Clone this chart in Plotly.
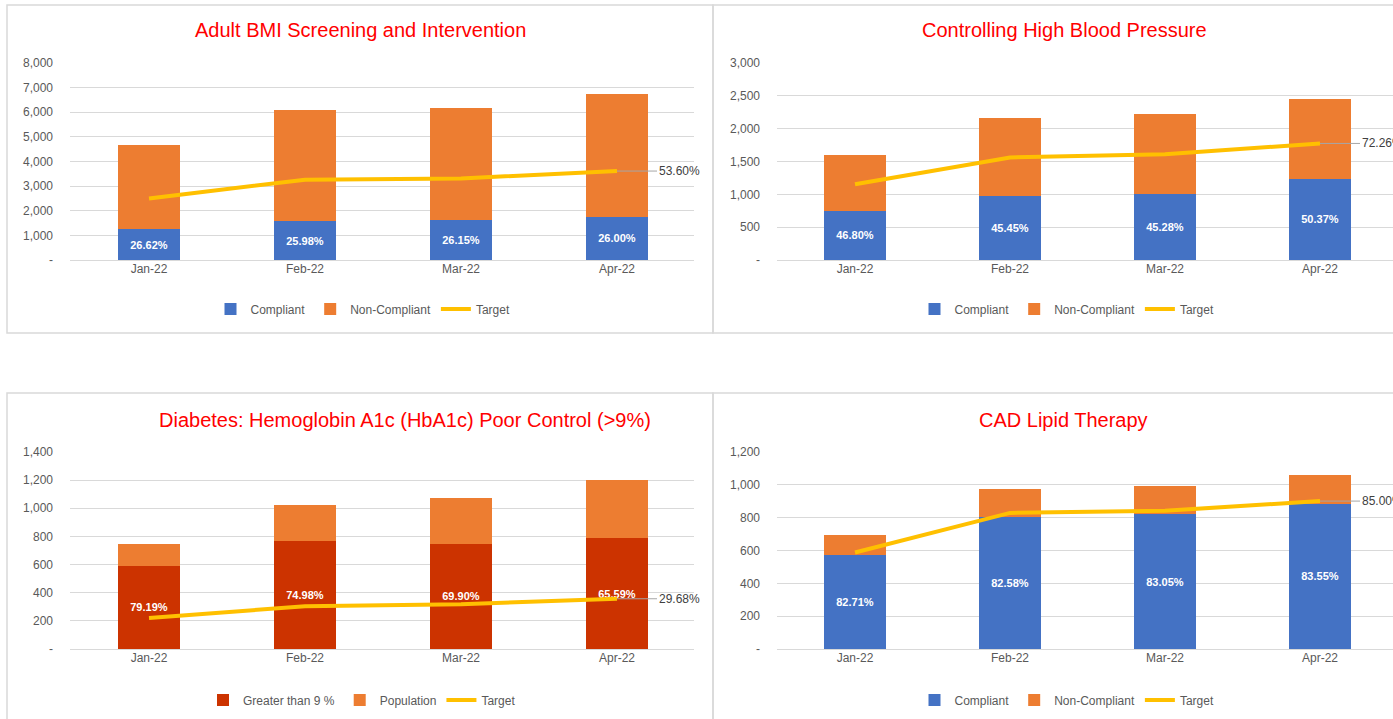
import plotly.graph_objects as go

W, H = 1393, 719

months = ["Jan-22", "Feb-22", "Mar-22", "Apr-22"]

# Adult BMI Screening and Intervention
bmi_compliant = [1242, 1582, 1617, 1752]
bmi_non_compliant = [3422, 4506, 4566, 4987]
bmi_target = [2500, 3263, 3314, 3612]
bmi_pct = ["26.62%", "25.98%", "26.15%", "26.00%"]
bmi_target_label = "53.60%"
bmi_ticks = [0, 1000, 2000, 3000, 4000, 5000, 6000, 7000, 8000]
bmi_ticktext = ["-", "1,000", "2,000", "3,000", "4,000", "5,000", "6,000", "7,000", "8,000"]

# Controlling High Blood Pressure
bp_compliant = [747, 982, 1008, 1237]
bp_non_compliant = [850, 1179, 1219, 1219]
bp_target = [1154, 1562, 1609, 1775]
bp_pct = ["46.80%", "45.45%", "45.28%", "50.37%"]
bp_target_label = "72.26%"
bp_ticks = [0, 500, 1000, 1500, 2000, 2500, 3000]
bp_ticktext = ["-", "500", "1,000", "1,500", "2,000", "2,500", "3,000"]

# Diabetes: HbA1c Poor Control
dm_poor = [590, 768, 749, 786]
dm_population = [156, 257, 323, 416]
dm_target = [221, 304, 318, 357]
dm_pct = ["79.19%", "74.98%", "69.90%", "65.59%"]
dm_target_label = "29.68%"
dm_ticks = [0, 200, 400, 600, 800, 1000, 1200, 1400]
dm_ticktext = ["-", "200", "400", "600", "800", "1,000", "1,200", "1,400"]

# CAD Lipid Therapy
cad_compliant = [573, 805, 822, 886]
cad_non_compliant = [119, 170, 168, 174]
cad_target = [588, 829, 842, 901]
cad_pct = ["82.71%", "82.58%", "83.05%", "83.55%"]
cad_target_label = "85.00%"
cad_ticks = [0, 200, 400, 600, 800, 1000, 1200]
cad_ticktext = ["-", "200", "400", "600", "800", "1,000", "1,200"]

BLUE = "#4472C4"
ORANGE = "#ED7D31"
DARKRED = "#CC3300"
GOLD = "#FFC000"
GREY_TXT = "#595959"
GRID = "#D9D9D9"
FONT = "Liberation Sans, Arial, sans-serif"


def px_x(v):
    return v / W


def px_y(v):
    return 1 - v / H


# xdom: plot area in pixels, cat: pixel centre of first and last month
panels = [
    dict(title="Adult BMI Screening and Intervention", tx=360, ty=30,
         low=bmi_compliant, high=bmi_non_compliant, target=bmi_target,
         pct=bmi_pct, tlabel=bmi_target_label, ticks=bmi_ticks, ticktext=bmi_ticktext,
         names=["Compliant", "Non-Compliant"], colors=[BLUE, ORANGE],
         xdom=[70, 694], cat=(149, 617), ydom=[63, 260], leg=(363, 309)),
    dict(title="Controlling High Blood Pressure", tx=1064, ty=30,
         low=bp_compliant, high=bp_non_compliant, target=bp_target,
         pct=bp_pct, tlabel=bp_target_label, ticks=bp_ticks, ticktext=bp_ticktext,
         names=["Compliant", "Non-Compliant"], colors=[BLUE, ORANGE],
         xdom=[777, 1393], cat=(855, 1320), ydom=[63, 260], leg=(1067, 309)),
    dict(title="Diabetes: Hemoglobin A1c (HbA1c) Poor Control (>9%)", tx=405, ty=420,
         low=dm_poor, high=dm_population, target=dm_target,
         pct=dm_pct, tlabel=dm_target_label, ticks=dm_ticks, ticktext=dm_ticktext,
         names=["Greater than 9 %", "Population"], colors=[DARKRED, ORANGE],
         xdom=[70, 694], cat=(149, 617), ydom=[452, 649], leg=(362, 700)),
    dict(title="CAD Lipid Therapy", tx=1063, ty=420,
         low=cad_compliant, high=cad_non_compliant, target=cad_target,
         pct=cad_pct, tlabel=cad_target_label, ticks=cad_ticks, ticktext=cad_ticktext,
         names=["Compliant", "Non-Compliant"], colors=[BLUE, ORANGE],
         xdom=[777, 1393], cat=(855, 1320), ydom=[452, 649], leg=(1067, 700)),
]

fig = go.Figure()
annotations = []
layout_extra = {}

for i, p in enumerate(panels, start=1):
    sfx = "" if i == 1 else str(i)
    xa, ya = "x" + sfx, "y" + sfx
    leg = "legend" + sfx

    fig.add_trace(go.Bar(
        x=months, y=p["low"], name=p["names"][0], marker_color=p["colors"][0],
        marker_line_width=0, text=p["pct"], textposition="inside",
        insidetextanchor="middle",
        textfont=dict(color="white", size=11, family=FONT, weight="bold"),
        xaxis=xa, yaxis=ya, legend=leg,
    ))
    fig.add_trace(go.Bar(
        x=months, y=p["high"], name=p["names"][1], marker_color=p["colors"][1],
        marker_line_width=0, xaxis=xa, yaxis=ya, legend=leg,
    ))
    fig.add_trace(go.Scatter(
        x=months, y=p["target"], name="Target", mode="lines",
        line=dict(color=GOLD, width=4), xaxis=xa, yaxis=ya, legend=leg,
    ))

    # category range so the months sit where the reference has them
    step = (p["cat"][1] - p["cat"][0]) / (len(months) - 1)
    r0 = -(p["cat"][0] - p["xdom"][0]) / step
    r1 = r0 + (p["xdom"][1] - p["xdom"][0]) / step

    layout_extra["xaxis" + sfx] = dict(
        domain=[px_x(p["xdom"][0]), px_x(p["xdom"][1])], anchor=ya, range=[r0, r1],
        showgrid=False, showline=False, ticks="", zeroline=False, automargin=False,
        tickfont=dict(size=12, color=GREY_TXT, family=FONT),
    )
    layout_extra["yaxis" + sfx] = dict(
        domain=[px_y(p["ydom"][1]), px_y(p["ydom"][0])], anchor=xa,
        range=[0, p["ticks"][-1]], tickvals=p["ticks"], ticktext=p["ticktext"],
        showgrid=True, gridcolor=GRID, gridwidth=1, zeroline=True,
        zerolinecolor=GRID, zerolinewidth=1, showline=False, automargin=False,
        tickfont=dict(size=12, color=GREY_TXT, family=FONT), ticklabelstandoff=16,
    )
    layout_extra[leg] = dict(
        orientation="h", x=px_x(p["leg"][0]), y=px_y(p["leg"][1]),
        xanchor="center", yanchor="middle", traceorder="normal",
        font=dict(size=12, color=GREY_TXT, family=FONT),
        bgcolor="rgba(0,0,0,0)", itemwidth=30, tracegroupgap=0,
    )

    annotations.append(dict(
        text=p["title"], x=px_x(p["tx"]), y=px_y(p["ty"]), xref="paper", yref="paper",
        showarrow=False, xanchor="center", yanchor="middle",
        font=dict(size=20, color="#FF0000", family=FONT),
    ))
    annotations.append(dict(
        text=p["tlabel"], x=months[-1], y=p["target"][-1], xref=xa, yref=ya,
        showarrow=True, arrowhead=0, arrowwidth=1, arrowcolor="#A6A6A6",
        ax=40, ay=0, xanchor="left", yanchor="middle",
        font=dict(size=12, color="#404040", family=FONT),
    ))

# panel borders
shapes = []
for x0, x1, y0, y1 in [(7, 713, 5, 333), (713, 1400, 5, 333),
                       (7, 713, 393, 730), (713, 1400, 393, 730)]:
    shapes.append(dict(type="rect", xref="paper", yref="paper",
                       x0=px_x(x0), x1=px_x(x1), y0=px_y(y1), y1=px_y(y0),
                       line=dict(color=GRID, width=1.5), fillcolor="rgba(0,0,0,0)",
                       layer="below"))

fig.update_layout(
    width=W, height=H,
    margin=dict(l=0, r=0, t=0, b=0, autoexpand=False),
    barmode="stack", bargap=0.6,
    plot_bgcolor="white", paper_bgcolor="white",
    font=dict(family=FONT, color=GREY_TXT),
    annotations=annotations, shapes=shapes,
    **layout_extra,
)

fig.write_html(
    "out.html",
    config={"displayModeBar": False},
    post_script="document.body.style.margin='0';document.body.style.overflow='hidden';",
)
